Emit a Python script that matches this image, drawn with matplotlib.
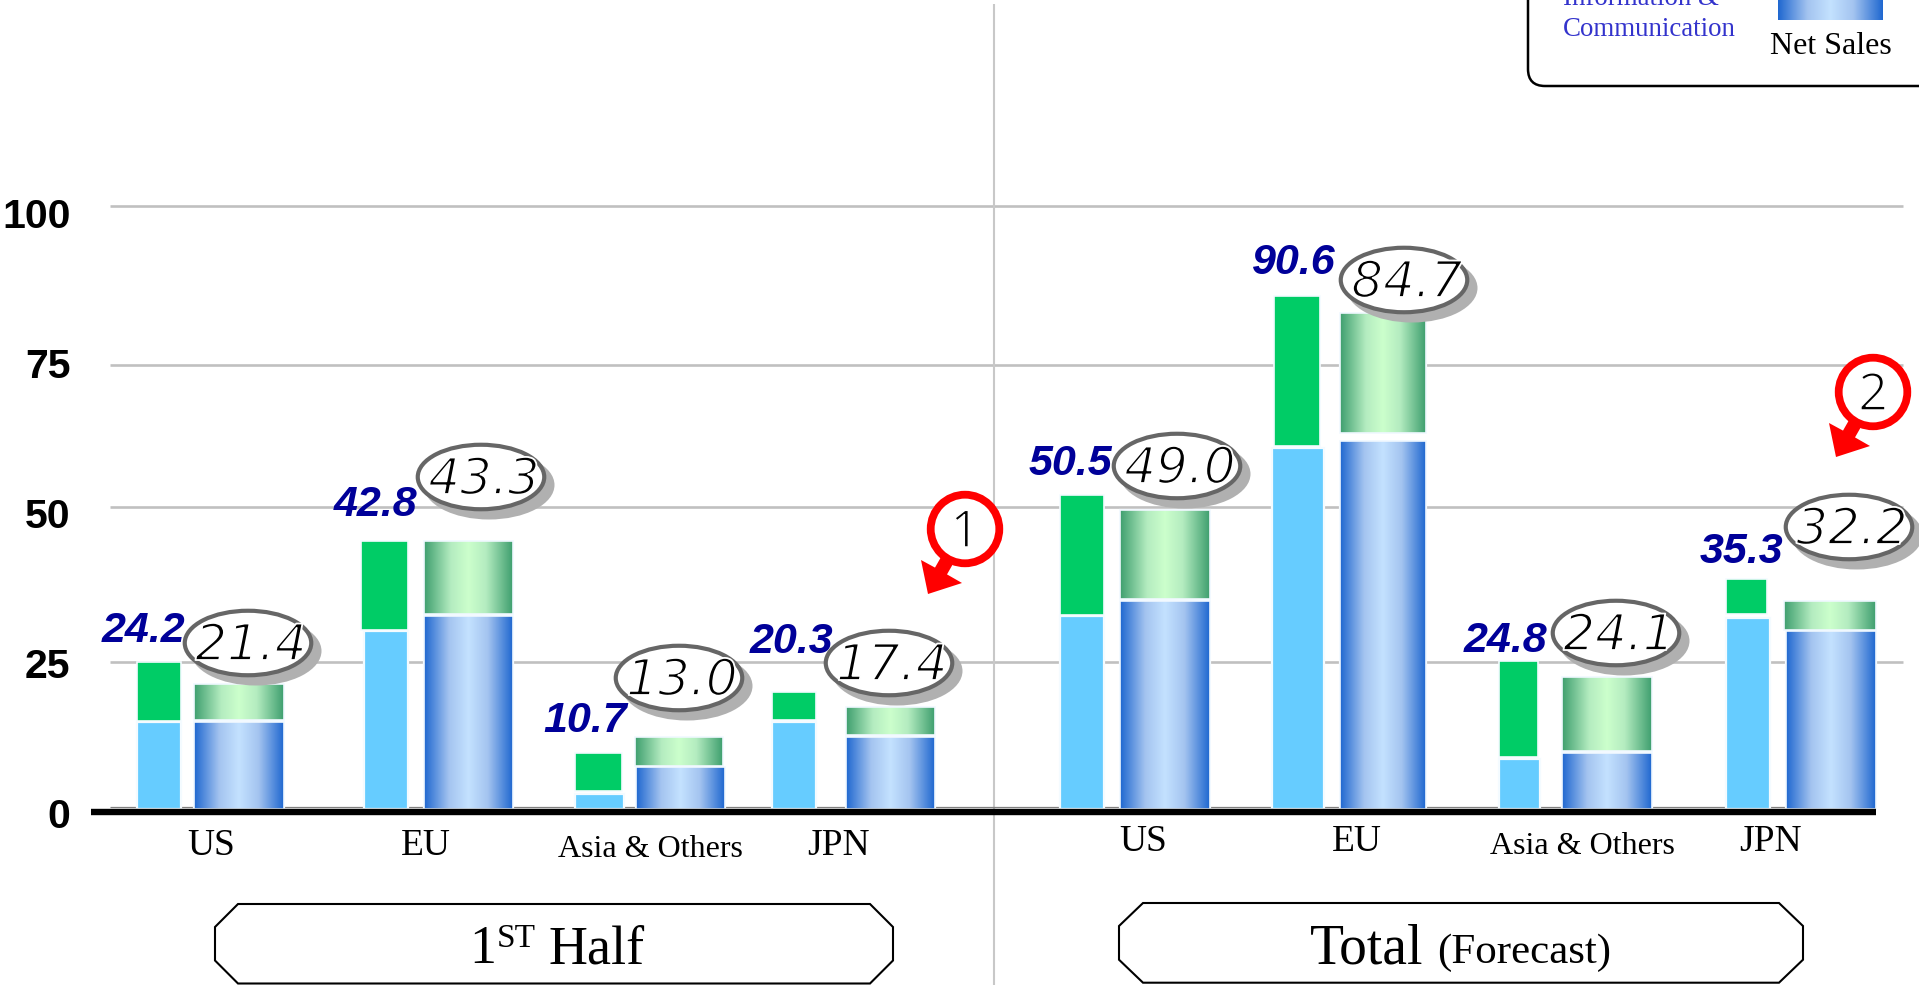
import numpy as np
import matplotlib
matplotlib.use("Agg")
import matplotlib.pyplot as plt
from matplotlib.patches import Ellipse, Polygon, Circle, FancyBboxPatch
import matplotlib.patheffects as pe
from matplotlib.colors import LinearSegmentedColormap

# ---------- data ----------
regions = ["US", "EU", "Asia & Others", "JPN", "US", "EU", "Asia & Others", "JPN"]
prev_labels = ["24.2", "42.8", "10.7", "20.3", "50.5", "90.6", "24.8", "35.3"]
curr_labels = ["21.4", "43.3", "13.0", "17.4", "49.0", "84.7", "24.1", "32.2"]
y_ticks = [0, 25, 50, 75, 100]
grid_levels = [24.4, 50.1, 73.6, 100.0]

# drawn heights (axis units)
prev_lower_top = [14.4, 29.5, 2.5, 14.4, 32.0, 59.9, 8.3, 31.7]
prev_upper_base = [14.6, 29.7, 3.0, 14.8, 32.2, 60.2, 8.6, 32.3]
prev_upper_top = [24.4, 44.4, 9.3, 19.4, 52.1, 85.1, 24.5, 38.1]
curr_lower_top = [14.4, 32.0, 6.9, 11.9, 34.5, 61.0, 9.3, 29.5]
curr_upper_base = [14.8, 32.3, 7.1, 12.2, 34.8, 62.4, 9.6, 29.7]
curr_upper_top = [20.7, 44.4, 11.9, 16.9, 49.6, 82.3, 21.9, 34.5]

# ---------- layout (pixels of the 1919x985 picture) ----------
W, H = 1919, 985
Y0, PX = 809.0, 6.03
prev_low_x = [(137, 181), (364, 408), (575, 624), (772, 816), (1060, 1104), (1272, 1324), (1499, 1540), (1726, 1770)]
prev_up_x = [(137, 181), (361, 408), (575, 622), (772, 816), (1060, 1104), (1274, 1320), (1499, 1538), (1726, 1767)]
curr_low_x = [(194, 283.5), (424, 513), (636, 725), (846, 935), (1120, 1209.5), (1340, 1426), (1562, 1652), (1786, 1876)]
curr_up_x = [(194, 283.5), (424, 513), (635, 723), (846, 935), (1120, 1209.5), (1340, 1426), (1562, 1652), (1784, 1876)]
ell_xy = [(248, 643), (481, 477), (679, 678), (889, 663), (1177, 466), (1404, 280), (1616, 633), (1849, 527)]
prev_xy = [(143, 642), (376, 516), (585, 732), (791, 653), (1070, 475), (1294, 274), (1505, 652), (1741, 563)]
reg_xy = [(211, 855), (426, 855), (650, 857), (838, 855), (1143, 851), (1357, 851), (1582, 854), (1771, 851)]
reg_size = [27, 27, 23, 27, 27, 27, 23, 27]

SERIF = "Liberation Serif"
SANS = "Liberation Sans"
SOLID_GREEN = "#00CC66"
SOLID_BLUE = "#66CCFF"
NAVY = "#000099"
LEGEND_BLUE = "#3333CC"
GRID = "#C0C0C0"

blue_cm = LinearSegmentedColormap.from_list("b", [(0, "#2068D0"), (0.28, "#A4C4F0"), (0.5, "#C4E2FF"), (0.72, "#A4C4F0"), (1, "#2068D0")])
green_cm = LinearSegmentedColormap.from_list("g", [(0, "#3F9F6F"), (0.3, "#B4ECC0"), (0.5, "#CCFFCC"), (0.7, "#B4ECC0"), (1, "#3F9F6F")])
ramp = np.linspace(0, 1, 128)[None, :]

fig = plt.figure(figsize=(W / 100, H / 100), dpi=100, facecolor="white")
ax = fig.add_axes([0, 0, 1, 1])
ax.set_xlim(0, W)
ylim = ((Y0 - H) / PX, Y0 / PX)
ax.set_ylim(*ylim)
ax.axis("off")

# grid, separators, baseline
ax.hlines(grid_levels, 110, 1903, color=GRID, lw=1.9, zorder=1)
ax.vlines(993.7, ylim[0], (Y0 - 4) / PX, color="#C8C8C8", lw=1.5, zorder=1)
ax.hlines(0.3, 110, 1876, color="#808080", lw=0.9, zorder=1)


def gradient_bar(x0, x1, bottom, top, cmap):
    rect = ax.bar(x0, top - bottom, x1 - x0, bottom, align="edge", facecolor="none",
                  edgecolor="#F0F8FF", lw=1.2, zorder=3)[0]
    im = ax.imshow(ramp, cmap=cmap, extent=(x0, x1, bottom, top), aspect="auto", zorder=2, interpolation="bilinear")
    im.set_clip_path(rect)
    ax.bar(x0, top - bottom, x1 - x0, bottom, align="edge", facecolor="none", edgecolor="white", lw=1.6, zorder=1.5)


for i in range(8):
    a, b = prev_low_x[i]
    ax.bar(a, prev_lower_top[i], b - a, 0, align="edge", color=SOLID_BLUE, edgecolor="#F4FBFF", lw=1.6, zorder=2)
    a, b = prev_up_x[i]
    ax.bar(a, prev_upper_top[i] - prev_upper_base[i], b - a, prev_upper_base[i], align="edge",
           color=SOLID_GREEN, edgecolor="#F4FBFF", lw=1.2, zorder=2)
    a, b = curr_low_x[i]
    gradient_bar(a, b, 0, curr_lower_top[i], blue_cm)
    a, b = curr_up_x[i]
    gradient_bar(a, b, curr_upper_base[i], curr_upper_top[i], green_cm)
ax.set_xlim(0, W)
ax.set_ylim(*ylim)
ax.hlines(-0.55, 91, 1876, color="black", lw=4.6, zorder=4)

# y axis labels: evenly spaced, a little off the grid lines as in the picture
ax_lab = fig.add_axes([70.5 / W, 0, 0.001, 1], facecolor="none")
ax_lab.set_ylim((813 - H) / 6.0, 813 / 6.0)
ax_lab.set_yticks(y_ticks)
ax_lab.set_yticklabels([str(v) for v in y_ticks], fontfamily=SANS, fontweight="bold", fontsize=29.5)
ax_lab.tick_params(axis="y", length=0, pad=0)
ax_lab.set_xticks([])
for s in ax_lab.spines.values():
    s.set_visible(False)

# overlay in picture pixels
ov = fig.add_axes([0, 0, 1, 1], facecolor="none", zorder=5)
ov.set_xlim(0, W)
ov.set_ylim(H, 0)
ov.axis("off")

thin = [pe.Normal(), pe.Stroke(linewidth=1.3, foreground="white")]
thin_small = [pe.Normal(), pe.Stroke(linewidth=1.1, foreground="white")]
for (cx, cy), txt in zip(ell_xy, curr_labels):
    ov.add_patch(Ellipse((cx + 8, cy + 8), 131, 69, fc="#B0B0B0", ec="none", zorder=2))
    ov.add_patch(Ellipse((cx, cy), 126.5, 64.5, fc="white", ec="#666666", lw=3.0, zorder=3))
    ov.text(cx + 3, cy + 17, txt, family="DejaVu Sans", style="oblique", fontsize=36, ha="center", va="baseline",
            color="black", zorder=4, path_effects=thin)

for (x, y), txt in zip(prev_xy, prev_labels):
    ov.text(x, y, txt, family=SANS, style="italic", weight="bold", fontsize=31, color=NAVY, ha="center", va="baseline", zorder=5)

for (x, y), txt, fs in zip(reg_xy, regions, reg_size):
    ov.text(x, y, txt, family=SERIF, fontsize=fs, color="black", ha="center", va="baseline", zorder=5)

# circled callouts with arrows
for (cx, cy), num in zip([(965, 529), (1873, 392)], ["1", "2"]):
    dx, dy = cx - 965, cy - 529
    arrow = [(943, 553.6), (955, 560.4), (947, 574.4), (962, 583), (928, 594), (921, 560), (935, 567.6)]
    ov.add_patch(Polygon([(x + dx, y + dy) for x, y in arrow], closed=True, fc="#FF0000", ec="none", zorder=6))
    ov.add_patch(Circle((cx, cy), 34.3, fc="white", ec="#FF0000", lw=5.6, zorder=7))
    ov.text(cx, cy + 18, num, family="Open Sans", fontsize=37, ha="center", va="baseline", color="black", zorder=8,
            path_effects=thin_small)

# period boxes
def octagon(x0, x1, y0, y1, cx, cy):
    pts = [(x0 + cx, y0), (x1 - cx, y0), (x1, y0 + cy), (x1, y1 - cy), (x1 - cx, y1), (x0 + cx, y1), (x0, y1 - cy), (x0, y0 + cy)]
    ov.add_patch(Polygon(pts, closed=True, fc="white", ec="black", lw=1.5, zorder=3))


octagon(215, 893, 904, 983.5, 23, 23)
octagon(1119, 1803, 903, 982.7, 24, 23)
ov.text(469, 963, "1", family=SERIF, fontsize=39, ha="left", va="baseline", zorder=5)
ov.text(497, 947, "ST", family=SERIF, fontsize=24, ha="left", va="baseline", zorder=5)
ov.text(548, 963, "Half", family=SERIF, fontsize=39, ha="left", va="baseline", zorder=5)
ov.text(1310, 963, "Total", family=SERIF, fontsize=40, ha="left", va="baseline", zorder=5)
ov.text(1437, 963, "(Forecast)", family=SERIF, fontsize=31, ha="left", va="baseline", zorder=5)

# legend box, running off the top and right of the picture
ov.add_patch(FancyBboxPatch((1545, -60), 500, 129, boxstyle="round,pad=17,rounding_size=17", fc="white", ec="black", lw=1.8, zorder=2))
ov.text(1563, 5, "Information &", family=SERIF, fontsize=19.4, color=LEGEND_BLUE, ha="left", va="baseline", zorder=5)
ov.text(1563, 36.5, "Communication", family=SERIF, fontsize=19.4, color=LEGEND_BLUE, ha="left", va="baseline", zorder=5)
ov.imshow(ramp, cmap=blue_cm, extent=(1778, 1883, 20, -30), aspect="auto", zorder=4, interpolation="bilinear")
ov.set_xlim(0, W)
ov.set_ylim(H, 0)
ov.text(1831, 53.5, "Net Sales", family=SERIF, fontsize=23, color="black", ha="center", va="baseline", zorder=5)

fig.savefig("out.png", dpi=100, facecolor="white")
